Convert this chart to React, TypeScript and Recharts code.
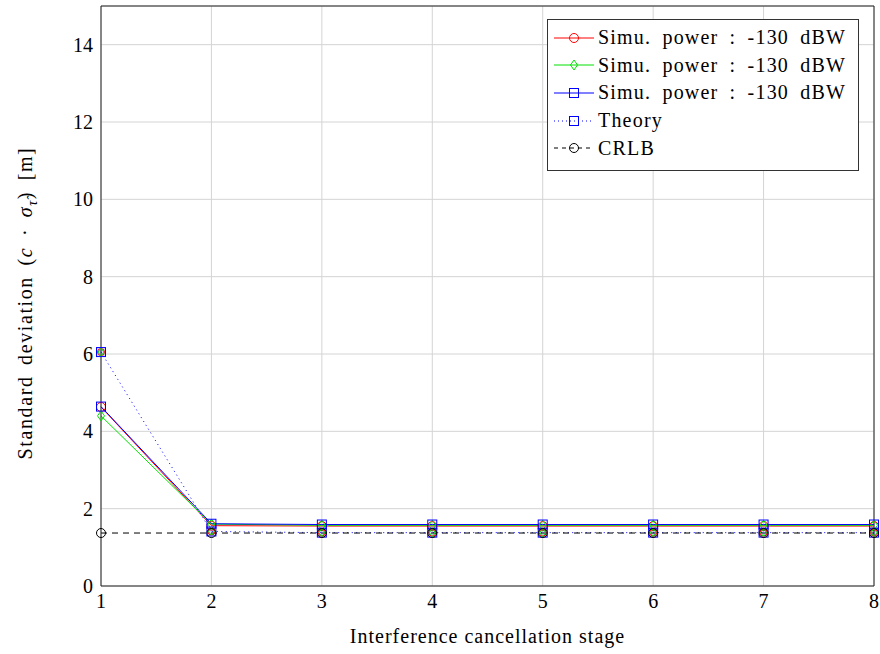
import React from "react";
import {
  LineChart,
  Line,
  XAxis,
  YAxis,
  CartesianGrid,
  ReferenceLine,
  Legend,
  Label,
} from "recharts";

const stages = [1, 2, 3, 4, 5, 6, 7, 8];
const simuRed = [4.63, 1.56, 1.55, 1.55, 1.55, 1.55, 1.55, 1.55];
const simuGreen = [4.4, 1.6, 1.57, 1.57, 1.57, 1.57, 1.57, 1.57];
const simuBlue = [4.64, 1.61, 1.59, 1.59, 1.59, 1.59, 1.59, 1.59];
const theory = [6.05, 1.41, 1.38, 1.38, 1.38, 1.38, 1.38, 1.38];
const crlb = [1.37, 1.37, 1.37, 1.37, 1.37, 1.37, 1.37, 1.37];
const yTicks = [0, 2, 4, 6, 8, 10, 12, 14];
const legendLabels = [
  "Simu. power : -130 dBW",
  "Simu. power : -130 dBW",
  "Simu. power : -130 dBW",
  "Theory",
  "CRLB",
];

const data = stages.map((s, i) => ({
  stage: s,
  red: simuRed[i],
  green: simuGreen[i],
  blue: simuBlue[i],
  theory: theory[i],
  crlb: crlb[i],
}));

const FONT = "Times New Roman, Liberation Serif, DejaVu Serif, serif";
const RED = "#ff0000";
const GREEN = "#00e000";
const BLUE = "#0000ff";

const CircleMark = ({ cx, cy, color }: any) => (
  <circle cx={cx} cy={cy} r={4.5} fill="none" stroke={color} strokeWidth={1} />
);
const DiamondMark = ({ cx, cy, color }: any) => (
  <path
    d={`M${cx},${cy - 5} L${cx + 3.5},${cy} L${cx},${cy + 5} L${cx - 3.5},${cy} Z`}
    fill="none"
    stroke={color}
    strokeWidth={1}
  />
);
const SquareMark = ({ cx, cy, color }: any) => (
  <rect x={cx - 4.5} y={cy - 4.5} width={9} height={9} fill="none" stroke={color} strokeWidth={1} />
);

const TheoryDot = (p: any) => (
  <g key={`th-${p.index}`}>
    <rect x={p.cx - 4.5} y={p.cy - 4.5} width={9} height={9} fill="rgba(0,0,255,0.15)" stroke={BLUE} strokeWidth={1} />
    <circle cx={p.cx} cy={p.cy} r={3.5} fill="none" stroke={RED} strokeWidth={1} />
    <path
      d={`M${p.cx},${p.cy - 4} L${p.cx + 3},${p.cy} L${p.cx},${p.cy + 4} L${p.cx - 3},${p.cy} Z`}
      fill="none"
      stroke={GREEN}
      strokeWidth={1}
    />
  </g>
);

const LegendBox = () => {
  const samples = [
    { color: RED, dash: undefined, mark: "circle" },
    { color: GREEN, dash: undefined, mark: "diamond" },
    { color: BLUE, dash: undefined, mark: "square" },
    { color: BLUE, dash: "1 3", mark: "square" },
    { color: "#000", dash: "4 4", mark: "circle" },
  ];
  return (
    <div
      style={{
        border: "1px solid #333",
        background: "#fff",
        width: 310,
        height: 146,
        boxSizing: "content-box",
        paddingTop: 4,
        fontFamily: FONT,
        fontSize: 20,
        color: "#000",
      }}
    >
      {samples.map((s, i) => (
        <div key={i} style={{ display: "flex", alignItems: "center", height: 27.6 }}>
          <svg width={50} height={20} style={{ flexShrink: 0 }}>
            <line x1={6} y1={10} x2={46} y2={10} stroke={s.color} strokeWidth={1} strokeDasharray={s.dash} />
            {s.mark === "circle" && <CircleMark cx={26} cy={10} color={s.color} />}
            {s.mark === "diamond" && <DiamondMark cx={26} cy={10} color={s.color} />}
            {s.mark === "square" && <SquareMark cx={26} cy={10} color={s.color} />}
          </svg>
          <span style={{ letterSpacing: 1.2, wordSpacing: 5, whiteSpace: "nowrap" }}>{legendLabels[i]}</span>
        </div>
      ))}
    </div>
  );
};

const YTitle = () => (
  <text
    transform="translate(32, 303) rotate(-90)"
    textAnchor="middle"
    fontFamily={FONT}
    fontSize={20}
    letterSpacing={1.6}
    wordSpacing={4}
    fill="#000"
  >
    Standard deviation (
    <tspan fontStyle="italic">c</tspan>
    {" \u00b7 "}
    <tspan fontStyle="italic">σ</tspan>
    <tspan fontStyle="italic" fontSize={14} dy={5}>τ̂</tspan>
    <tspan dy={-5}>) [m]</tspan>
  </text>
);

export default function App() {
  return (
    <div style={{ width: 880, height: 654, background: "#fff", position: "relative" }}>
      <style>{`body{margin:0}`}</style>
      <LineChart width={880} height={654} data={data} margin={{ top: 6, right: 6, left: 0, bottom: 18 }}>
        <CartesianGrid stroke="#d4d4d4" strokeWidth={1} />
        <XAxis
          dataKey="stage"
          type="number"
          domain={[1, 8]}
          ticks={stages}
          height={50}
          stroke="#222"
          tickLine={false}
          tickMargin={2}
          tick={{ fill: "#000", fontSize: 20, fontFamily: FONT }}
        >
          <Label
            value="Interference cancellation stage"
            position="insideBottom"
            offset={-7}
            style={{ fill: "#000", fontSize: 20, fontFamily: FONT, letterSpacing: 1 }}
          />
        </XAxis>
        <YAxis
          type="number"
          domain={[0, 15]}
          ticks={yTicks}
          width={101}
          stroke="#222"
          tickLine={false}
          tickMargin={2}
          tick={{ fill: "#000", fontSize: 20, fontFamily: FONT }}
        >
          <Label content={<YTitle />} />
        </YAxis>
        <ReferenceLine y={15} stroke="#222" />
        <ReferenceLine x={8} stroke="#222" />
        <Line
          dataKey="red"
          stroke={RED}
          strokeWidth={1}
          isAnimationActive={false}
          dot={(p: any) => <CircleMark key={`r-${p.index}`} cx={p.cx} cy={p.cy} color={RED} />}
        />
        <Line
          dataKey="green"
          stroke={GREEN}
          strokeWidth={1}
          isAnimationActive={false}
          dot={(p: any) => <DiamondMark key={`g-${p.index}`} cx={p.cx} cy={p.cy} color={GREEN} />}
        />
        <Line
          dataKey="blue"
          stroke={BLUE}
          strokeWidth={1}
          isAnimationActive={false}
          dot={(p: any) => <SquareMark key={`b-${p.index}`} cx={p.cx} cy={p.cy} color={BLUE} />}
        />
        <Line
          dataKey="theory"
          stroke={BLUE}
          strokeWidth={1}
          strokeDasharray="1 3.5"
          isAnimationActive={false}
          dot={TheoryDot}
        />
        <Line
          dataKey="crlb"
          stroke="#000"
          strokeWidth={1}
          strokeDasharray="6 5"
          isAnimationActive={false}
          dot={(p: any) => <CircleMark key={`c-${p.index}`} cx={p.cx} cy={p.cy} color="#000" />}
        />
        <Legend
          layout="vertical"
          align="center"
          verticalAlign="middle"
          content={<LegendBox />}
          wrapperStyle={{ left: 547, top: 19, width: 312, height: 150 }}
        />
      </LineChart>
    </div>
  );
}
